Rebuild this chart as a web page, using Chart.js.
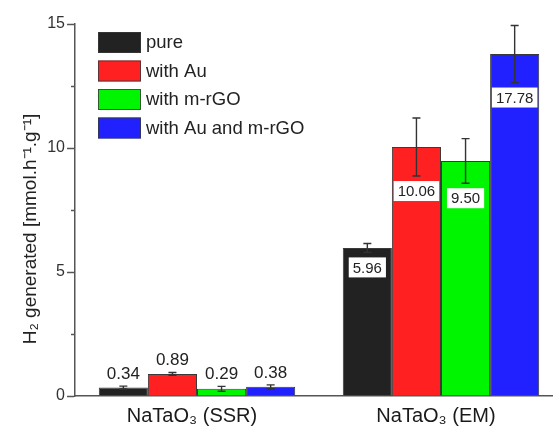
<!DOCTYPE html>
<html>
<head>
<meta charset="utf-8">
<script src="https://cdn.jsdelivr.net/npm/chart.js@4.4.1/dist/chart.umd.min.js"></script>
<style>
  html, body { margin: 0; padding: 0; background: #fff; overflow: hidden; }
  #wrap { width: 553px; height: 426px; overflow: hidden; position: relative; }
  #box { width: 566px; height: 426px; position: absolute; left: 0; top: 0; }
</style>
</head>
<body>
<div id="wrap"><div id="box"><canvas id="c"></canvas></div></div>
<script>
// ---- data ----
const categories = ['NaTaO\u2083 (SSR)', 'NaTaO\u2083 (EM)'];
const seriesNames = ['pure', 'with Au', 'with m-rGO', 'with Au and m-rGO'];
const pureVals = [0.34, 5.97];
const auVals = [0.89, 10.04];
const rgoVals = [0.29, 9.48];
const auRgoVals = [0.37, 13.79];
const pureErr = [0.06, 0.18];
const auErr = [0.06, 1.17];
const rgoErr = [0.10, 0.90];
const auRgoErr = [0.08, 1.15];
const pureLbl = ['0.34', '5.96'];
const auLbl = ['0.89', '10.06'];
const rgoLbl = ['0.29', '9.50'];
const auRgoLbl = ['0.38', '17.78'];
const yTicks = [0, 5, 10, 15];
const yMinorTicks = [2.5, 7.5, 12.5];
const yTitle = 'H\u2082 generated [mmol.h\u207B\u00B9.g\u207B\u00B9]';

const colors = ['#222222', '#ff2121', '#00f500', '#2121ff'];
const values = [pureVals, auVals, rgoVals, auRgoVals];
const errors = [pureErr, auErr, rgoErr, auRgoErr];
const labels = [pureLbl, auLbl, rgoLbl, auRgoLbl];
const FONT = "'Liberation Sans', Arial, sans-serif";

const datasets = seriesNames.map((n, i) => ({
  label: n,
  data: values[i],
  errs: errors[i],
  lbls: labels[i],
  backgroundColor: colors[i],
  borderColor: '#3a3a3a',
  borderWidth: 1,
  borderSkipped: 'bottom',
  categoryPercentage: 0.805,
  barPercentage: 1.0
}));

const extras = {
  id: 'extras',
  afterDatasetsDraw(chart) {
    const ctx = chart.ctx;
    const y = chart.scales.y;
    const ca = chart.chartArea;
    ctx.save();
    // y-axis title
    ctx.save();
    ctx.translate(36, 229);
    ctx.rotate(-Math.PI / 2);
    ctx.font = '19px ' + FONT;
    ctx.fillStyle = '#222';
    ctx.textAlign = 'center';
    ctx.textBaseline = 'alphabetic';
    ctx.fillText(yTitle, 0, 0);
    ctx.restore();
    // minor ticks
    ctx.strokeStyle = '#555';
    ctx.lineWidth = 1.5;
    yMinorTicks.forEach(v => {
      const py = Math.round(y.getPixelForValue(v)) + 0.5;
      ctx.beginPath();
      ctx.moveTo(ca.left - 4, py);
      ctx.lineTo(ca.left, py);
      ctx.stroke();
    });
    chart.data.datasets.forEach((ds, di) => {
      const meta = chart.getDatasetMeta(di);
      meta.data.forEach((bar, i) => {
        const v = ds.data[i], e = ds.errs[i];
        const x = bar.x;
        const yt = y.getPixelForValue(v + e);
        const yb = y.getPixelForValue(v - e);
        // error bar
        ctx.strokeStyle = '#333';
        ctx.lineWidth = 1.4;
        ctx.beginPath();
        ctx.moveTo(x, yt); ctx.lineTo(x, yb);
        ctx.moveTo(x - 4, yt); ctx.lineTo(x + 4, yt);
        ctx.moveTo(x - 4, yb); ctx.lineTo(x + 4, yb);
        ctx.stroke();
        // value label
        const txt = ds.lbls[i];
        const barH = y.getPixelForValue(0) - bar.y;
        if (barH > 60) {
          ctx.font = '15px ' + FONT;
          const w = ctx.measureText(txt).width + 8;
          const top = yb + 5;
          ctx.fillStyle = '#fff';
          ctx.fillRect(x - w / 2, top, w, 20);
          ctx.fillStyle = '#222';
          ctx.textAlign = 'center';
          ctx.textBaseline = 'middle';
          ctx.fillText(txt, x, top + 11);
        } else {
          ctx.font = '17px ' + FONT;
          ctx.fillStyle = '#222';
          ctx.textAlign = 'center';
          ctx.textBaseline = 'alphabetic';
          ctx.fillText(txt, x, yt - 7);
        }
      });
    });
    // legend
    const lx = ca.left + 23, ly = ca.top + 8;
    chart.data.datasets.forEach((ds, di) => {
      const top = ly + di * 28.5;
      ctx.fillStyle = ds.backgroundColor;
      ctx.fillRect(lx, top, 43, 21);
      ctx.strokeStyle = '#3a3a3a';
      ctx.lineWidth = 0.8;
      ctx.strokeRect(lx + 0.5, top + 0.5, 42, 20);
      ctx.font = '18.5px ' + FONT;
      ctx.fillStyle = '#222';
      ctx.textAlign = 'left';
      ctx.textBaseline = 'middle';
      ctx.fillText(ds.label, lx + 48, top + 11);
    });
    ctx.restore();
  }
};

new Chart(document.getElementById('c'), {
  type: 'bar',
  data: { labels: categories, datasets },
  options: {
    responsive: true,
    maintainAspectRatio: false,
    animation: false,
    layout: { padding: { top: 24, right: 3, left: 0, bottom: 0 } },
    plugins: { legend: { display: false }, tooltip: { enabled: false } },
    scales: {
      x: {
        grid: { display: false, drawTicks: false },
        border: { display: true, color: '#555', width: 1.5 },
        ticks: { color: '#1a1a1a', font: { family: FONT, size: 20 }, padding: 8, labelOffset: -5 },
        afterFit(s) { s.height = 30; }
      },
      y: {
        min: 0, max: 15,
        afterBuildTicks(s) { s.ticks = yTicks.map(v => ({ value: v })); },
        grid: { drawOnChartArea: false, drawTicks: true, tickLength: 8, tickColor: '#555', tickWidth: 1.5 },
        border: { display: true, color: '#555', width: 1.5 },
        ticks: { color: '#333', font: { family: FONT, size: 16 }, padding: 2 },
        title: { display: false },
        afterFit(s) { s.width = 75; }
      }
    }
  },
  plugins: [extras]
});
</script>
</body>
</html>
